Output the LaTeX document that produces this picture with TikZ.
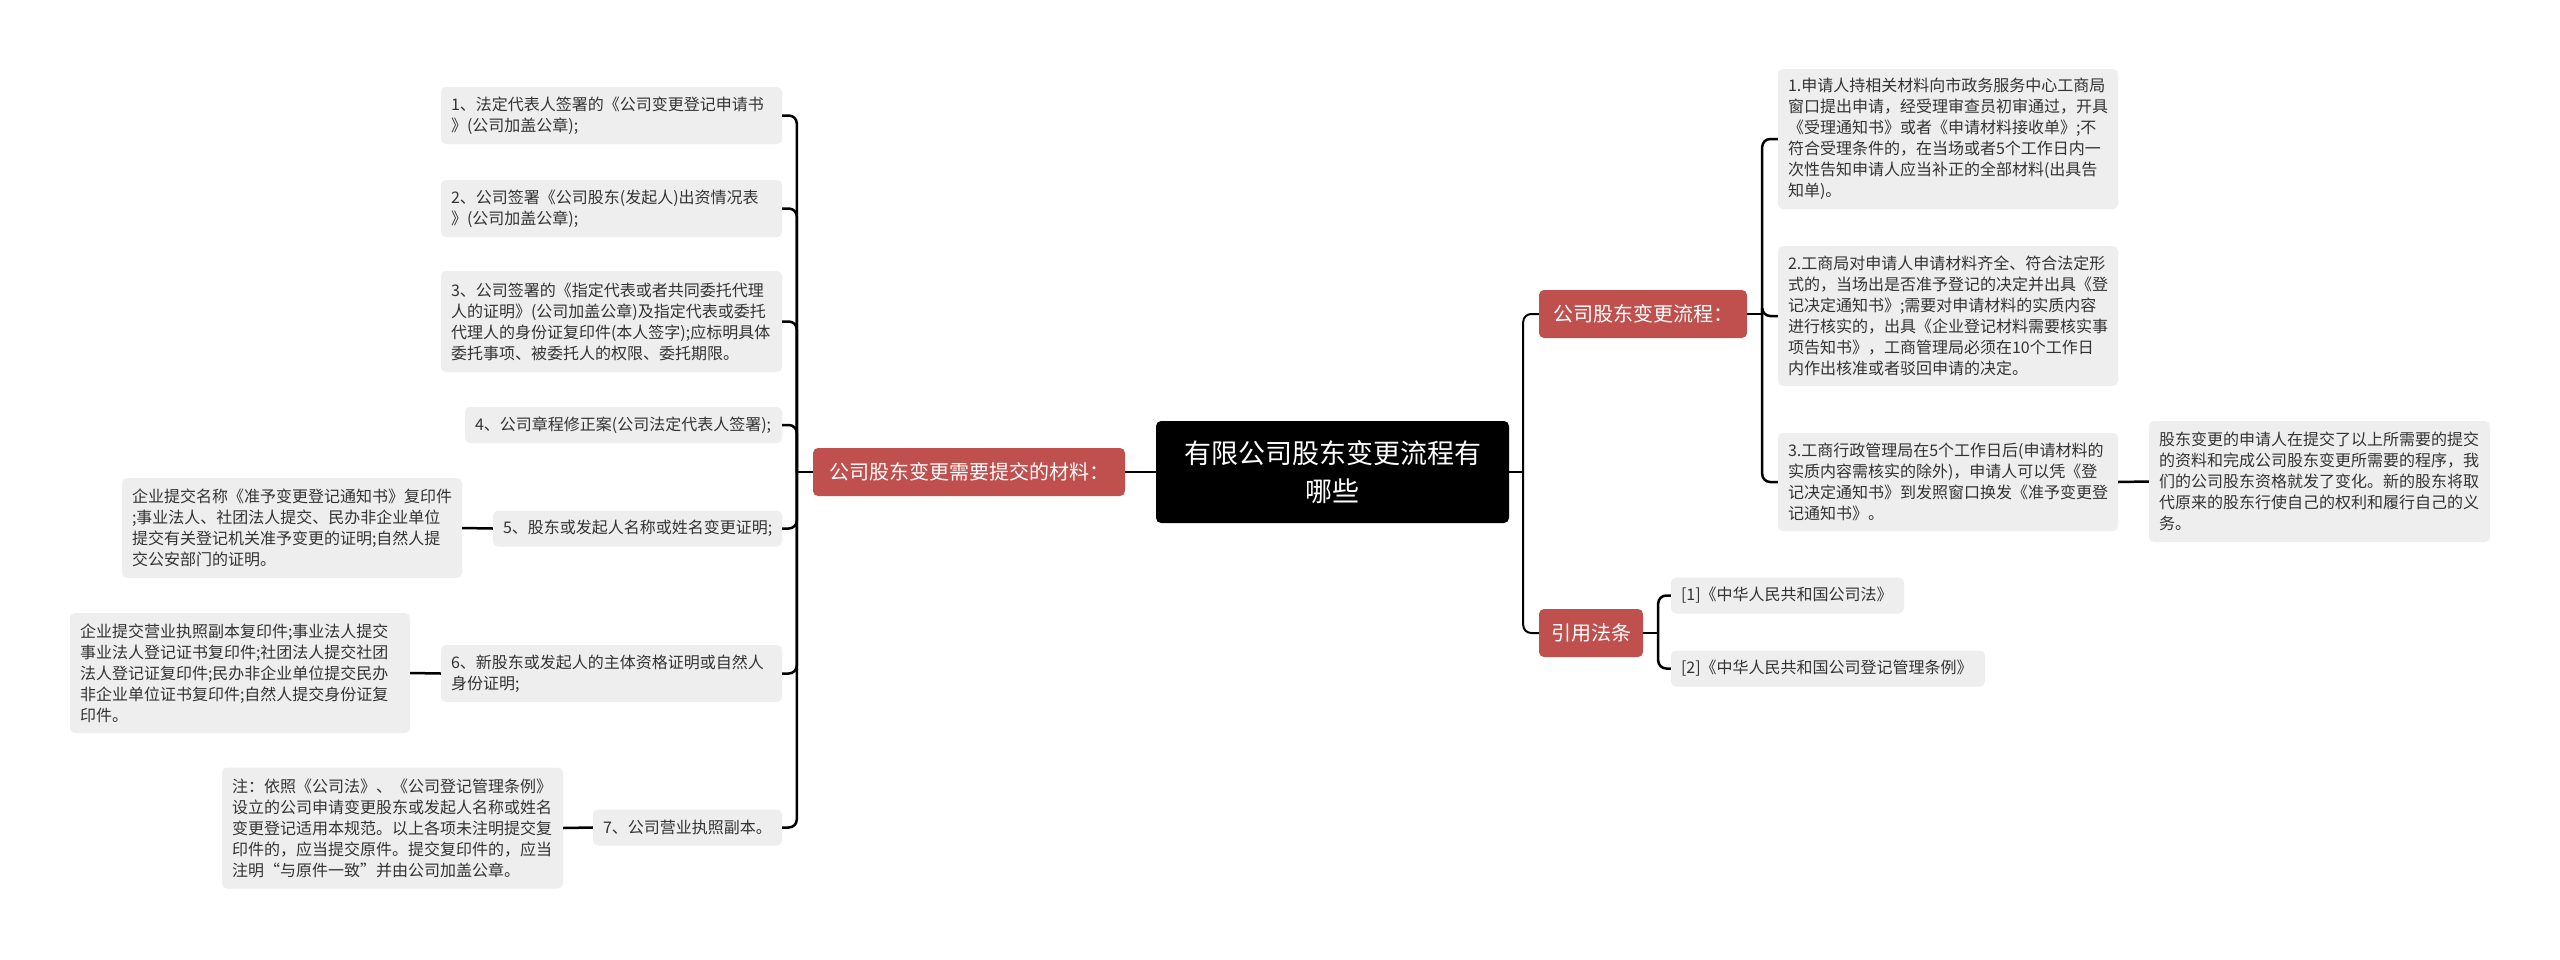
\documentclass[tikz,border=0pt]{standalone}
\usepackage{fontspec}
\setmainfont{Noto Sans CJK SC}
\definecolor{boxgray}{RGB}{238,238,238}
\definecolor{txtgray}{RGB}{51,51,51}
\definecolor{branchred}{RGB}{192,80,77}
\begin{document}
\begin{tikzpicture}[x=1pt,y=-1pt,
  item/.style={fill=boxgray, rounded corners=5pt, text=txtgray, align=left,
    inner xsep=10pt, inner ysep=0pt, font=\fontsize{16}{21}\selectfont},
  branch/.style={fill=branchred, rounded corners=5pt, text=white, align=center,
    inner sep=0pt, minimum height=48pt, font=\fontsize{20}{24}\selectfont},
  root/.style={fill=black, rounded corners=5pt, text=white, align=center,
    inner sep=0pt, minimum width=353pt, minimum height=102pt, font=\fontsize{27}{38}\selectfont},
  conn/.style={draw=black, line width=2.5pt, rounded corners=8pt},
  mainconn/.style={draw=black, line width=2pt, rounded corners=8pt}]
\fill[white] (0,0) rectangle (2560,959);
\useasboundingbox (0,0) rectangle (2560,959);

% root and branches
\node[root] (c) at (1332.5,472) {有限公司股东变更流程有\\哪些};
\node[branch, minimum width=312pt] (lb) at (969,472) {公司股东变更需要提交的材料：};
\node[branch, minimum width=208pt] (rb) at (1643,314) {公司股东变更流程：};
\node[branch, minimum width=104pt] (law) at (1591,633) {引用法条};

% left items
\node[item, text width=321pt, minimum height=57pt] (i1) at (611.5,115.5) {1、法定代表人签署的《公司变更登记申请书\\》(公司加盖公章);};
\node[item, text width=321pt, minimum height=57pt] (i2) at (611.5,208.5) {2、公司签署《公司股东(发起人)出资情况表\\》(公司加盖公章);};
\node[item, text width=321pt, minimum height=101pt] (i3) at (611.5,321.5) {3、公司签署的《指定代表或者共同委托代理\\人的证明》(公司加盖公章)及指定代表或委托\\代理人的身份证复印件(本人签字);应标明具体\\委托事项、被委托人的权限、委托期限。};
\node[item, text width=297pt, minimum height=36pt] (i4) at (623.5,425) {4、公司章程修正案(公司法定代表人签署);};
\node[item, text width=269pt, minimum height=36pt] (i5) at (637.5,528.5) {5、股东或发起人名称或姓名变更证明;};
\node[item, text width=320pt, minimum height=100pt] (d5) at (292,528) {企业提交名称《准予变更登记通知书》复印件\\;事业法人、社团法人提交、民办非企业单位\\提交有关登记机关准予变更的证明;自然人提\\交公安部门的证明。};
\node[item, text width=321pt, minimum height=57pt] (i6) at (611.5,673.5) {6、新股东或发起人的主体资格证明或自然人\\身份证明;};
\node[item, text width=320pt, minimum height=120pt] (d6) at (240,673) {企业提交营业执照副本复印件;事业法人提交\\事业法人登记证书复印件;社团法人提交社团\\法人登记证复印件;民办非企业单位提交民办\\非企业单位证书复印件;自然人提交身份证复\\印件。};
\node[item, text width=169pt, minimum height=36pt] (i7) at (687.5,827.5) {7、公司营业执照副本。};
\node[item, text width=321pt, minimum height=121pt] (d7) at (392.5,828) {注：依照《公司法》、《公司登记管理条例》\\设立的公司申请变更股东或发起人名称或姓名\\变更登记适用本规范。以上各项未注明提交复\\印件的，应当提交原件。提交复印件的，应当\\注明“与原件一致”并由公司加盖公章。};

% right items
\node[item, text width=320pt, minimum height=140pt] (r1) at (1948,139) {1.申请人持相关材料向市政务服务中心工商局\\窗口提出申请，经受理审查员初审通过，开具\\《受理通知书》或者《申请材料接收单》;不\\符合受理条件的，在当场或者5个工作日内一\\次性告知申请人应当补正的全部材料(出具告\\知单)。};
\node[item, text width=320pt, minimum height=140pt] (r2) at (1948,316) {2.工商局对申请人申请材料齐全、符合法定形\\式的，当场出是否准予登记的决定并出具《登\\记决定通知书》;需要对申请材料的实质内容\\进行核实的，出具《企业登记材料需要核实事\\项告知书》，工商管理局必须在10个工作日\\内作出核准或者驳回申请的决定。};
\node[item, text width=320pt, minimum height=98pt] (r3) at (1948,482) {3.工商行政管理局在5个工作日后(申请材料的\\实质内容需核实的除外)，申请人可以凭《登\\记决定通知书》到发照窗口换发《准予变更登\\记通知书》。};
\node[item, text width=321pt, minimum height=121pt] (r3d) at (2319.5,481.5) {股东变更的申请人在提交了以上所需要的提交\\的资料和完成公司股东变更所需要的程序，我\\们的公司股东资格就发了变化。新的股东将取\\代原来的股东行使自己的权利和履行自己的义\\务。};
\node[item, text width=213pt, minimum height=36pt] (l1) at (1787.5,595.5) {[1]《中华人民共和国公司法》};
\node[item, text width=294pt, minimum height=36pt] (l2) at (1828,668.5) {[2]《中华人民共和国公司登记管理条例》};

% connectors: root
\draw[mainconn] (c.west) -- (lb.east);
\coordinate (cj) at ([xshift=14pt]c.east);
\draw[mainconn] (c.east) -- (cj);
\draw[mainconn] (cj) |- (rb.west);
\draw[mainconn] (cj) |- (law.west);

% left subtree
\coordinate (lj) at ([xshift=-16pt]lb.west);
\draw[conn] (lb.west) -- (lj);
\foreach \n in {i1,i2,i3,i4,i5,i6,i7} \draw[conn] (lj) |- (\n.east);
\draw[conn] (i5.west) -- (d5.east);
\draw[conn] (i6.west) -- (d6.east);
\draw[conn] (i7.west) -- (d7.east);

% right subtree
\coordinate (rj) at ([xshift=15pt]rb.east);
\draw[conn] (rb.east) -- (rj);
\foreach \n in {r1,r2,r3} \draw[conn] (rj) |- (\n.west);
\draw[conn] (r3.east) -- (r3d.west);

% law subtree
\coordinate (qj) at ([xshift=15pt]law.east);
\draw[conn] (law.east) -- (qj);
\foreach \n in {l1,l2} \draw[conn] (qj) |- (\n.west);
\end{tikzpicture}
\end{document}
